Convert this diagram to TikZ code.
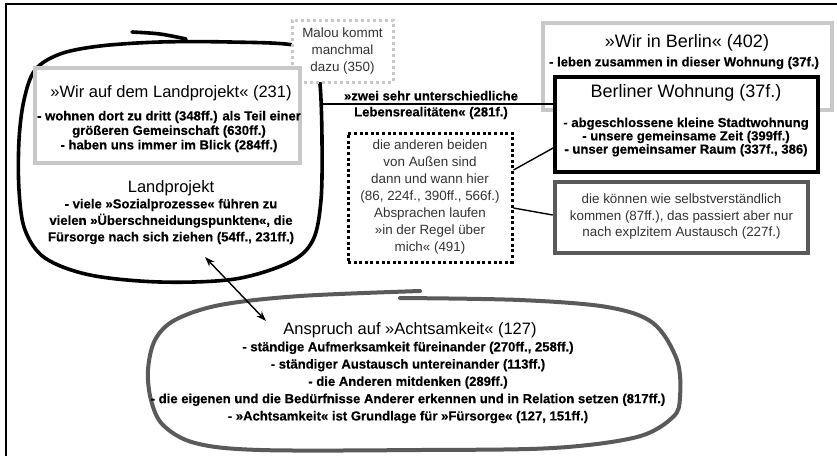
\documentclass[tikz,border=0pt]{standalone}
\usepackage{fontspec}
\setmainfont{Liberation Sans}[BoldFeatures={FakeBold=0.4}]
\usetikzlibrary{arrows.meta}
\definecolor{lgray}{HTML}{C8C8C8}
\definecolor{dgray}{HTML}{5A5A5A}
\definecolor{tgray}{HTML}{333333}
\begin{document}
\begin{tikzpicture}[x=1pt,y=-1pt,
  ttl/.style={font=\fontsize{16.5}{19}\selectfont, inner sep=0pt, text=black},
  bigttl/.style={font=\fontsize{18}{21}\selectfont, inner sep=0pt, text=black},
  bl/.style={font=\fontsize{13.1}{#1}\selectfont\bfseries, align=center, inner sep=0pt, text=black},
  plain/.style={font=\fontsize{13.4}{#1}\selectfont, align=center, inner sep=0pt, text=tgray},
  lightbox/.style={draw=lgray, line width=4pt, fill=white, inner sep=0pt},
  blackbox/.style={draw=black, line width=3.8pt, fill=white, inner sep=0pt},
  darkbox/.style={draw=dgray, line width=4.5pt, fill=white, inner sep=0pt},
  dotbox/.style={draw=black, line width=3pt, dash pattern=on 3pt off 2.6pt, inner sep=0pt},
  lightdot/.style={draw=lgray, line width=3pt, dash pattern=on 3pt off 3pt, fill=white, inner sep=0pt},
  conn/.style={draw=black, line width=1.4pt},
  blackblob/.style={draw=black, line width=3.6pt, line cap=round},
  grayblob/.style={draw=dgray, line width=4pt, line cap=round}
]
\useasboundingbox (0,0) rectangle (837,456);
\fill[white] (0,0) rectangle (837,456);
% frame
\draw[line width=2pt] (837,4) -- (6,4) -- (6,456);

% left blob (Landprojekt)
\draw[blackblob] plot[smooth cycle, tension=0.55] coordinates {(293,45) (230,42) (160,42) (100,46) (60,54) (35,70) (24,100) (19,140) (19,190) (25,230) (45,258) (90,275) (160,282) (235,279) (290,262) (313,240) (321,200) (322,140) (320,84) (314,58)};
\draw[blackblob] plot[smooth, tension=0.6] coordinates {(132,32) (160,34) (186,39)};

% Achtsamkeit blob
\draw[grayblob] plot[smooth, tension=0.55] coordinates {(420,291) (300,296) (220,305) (175,320) (155,340) (148,370) (151,400) (163,425) (195,443) (260,450) (420,450) (553,448) (637,437) (673,417) (680,397) (677,360) (653,323) (607,307) (520,300) (400,298)};

% Malou box
\node[lightdot, minimum width=101pt, minimum height=62pt] (malou) at (342.5,51) {};
\node[plain=17pt] (maloutxt) at (342.5,51) {Malou kommt\\manchmal\\dazu (350)};

% Wir auf dem Landprojekt
\node[lightbox, minimum width=265pt, minimum height=95pt] (wirland) at (167.5,115.5) {};
\node[ttl] (wirlandttl) at (171,93) {»Wir auf dem Landprojekt« (231)};
\node[bl=14.5pt] (wirlanditems) at (169,131.5) {- wohnen dort zu dritt (348ff.) als Teil einer\\größeren Gemeinschaft (630ff.)\\- haben uns immer im Blick (284ff.)};

% Landprojekt
\node[ttl] (landttl) at (171,188) {Landprojekt};
\node[bl=16.5pt] (landitems) at (171,221.5) {- viele »Sozialprozesse« führen zu\\vielen »Überschneidungspunkten«, die\\Fürsorge nach sich ziehen (54ff., 231ff.)};

% Wir in Berlin
\node[lightbox, minimum width=289pt, minimum height=87pt] (wirberlin) at (687.5,66.5) {};
\node[bigttl] (wirberlinttl) at (687,43) {»Wir in Berlin« (402)};
\node[bl=14pt] (wirberlinitem) at (684,63) {- leben zusammen in dieser Wohnung (37f.)};

% Berliner Wohnung
\node[blackbox, minimum width=263pt, minimum height=95pt] (berlin) at (686.5,124.5) {};
\node[bigttl] (berlinttl) at (686,93) {Berliner Wohnung (37f.)};
\node[bl=13.3pt] (berlinitems) at (686,137) {- abgeschlossene kleine Stadtwohnung\\- unsere gemeinsame Zeit (399ff.)\\- unser gemeinsamer Raum (337f., 386)};

% line between the two worlds
\coordinate (blobR) at (322,104);
\draw[conn] (blobR) -- (berlin.west |- blobR);
\node[bl=16pt] (zwei) at (431,105) {»zwei sehr unterschiedliche\\Lebensrealitäten« (281f.)};

% dotted box
\node[dotbox, minimum width=164pt, minimum height=129pt] (dots) at (430,197.5) {};
\node[plain=17pt] (dotstxt) at (430,197) {die anderen beiden\\von Außen sind\\dann und wann hier\\(86, 224f., 390ff., 566f.)\\Absprachen laufen\\»in der Regel über\\mich« (491)};

% koennen box
\node[darkbox, minimum width=253pt, minimum height=71pt] (koennen) at (681.5,217.5) {};
\node[plain=16.5pt] (koennentxt) at (681.5,217) {die können wie selbstverständlich\\kommen (87ff.), das passiert aber nur\\nach explzitem Austausch (227f.)};

\draw[conn] ([yshift=27.5pt]dots.east) -- ([yshift=-23.5pt]berlin.west);
\draw[conn] ([yshift=-10.5pt]dots.east) -- ([yshift=2.5pt]koennen.west);

% Achtsamkeit
\node[ttl] (achtttl) at (410,330) {Anspruch auf »Achtsamkeit« (127)};
\node[bl=17.3pt] (achtitems) at (408,382.5) {- ständige Aufmerksamkeit füreinander (270ff., 258ff.)\\- ständiger Austausch untereinander (113ff.)\\- die Anderen mitdenken (289ff.)\\- die eigenen und die Bedürfnisse Anderer erkennen und in Relation setzen (817ff.)\\- »Achtsamkeit« ist Grundlage für »Fürsorge« (127, 151ff.)};

% double arrow
\coordinate (arrA) at (205,257);
\coordinate (arrB) at (266,321);
\draw[conn, {Stealth[length=10pt,width=7pt]}-{Stealth[length=10pt,width=7pt]}] (arrA) -- (arrB);
\end{tikzpicture}
\end{document}
